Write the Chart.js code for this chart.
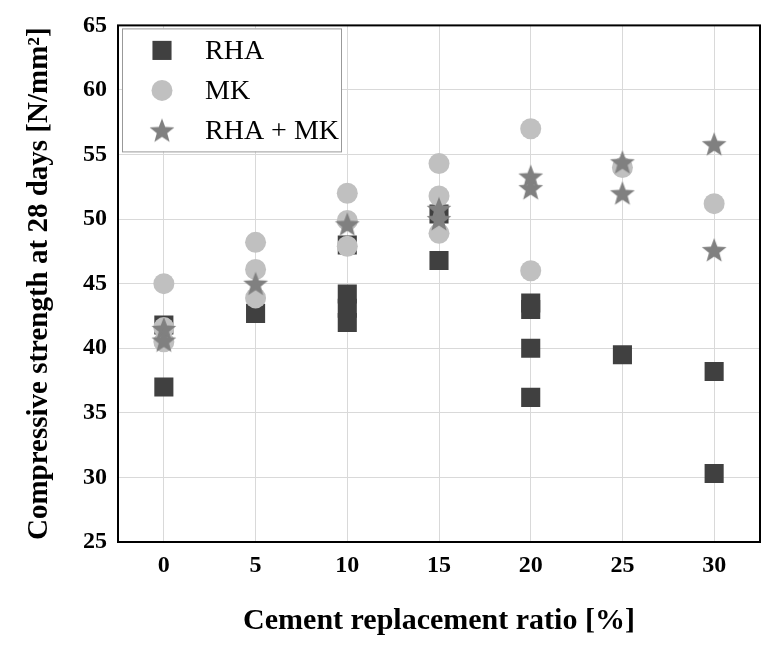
<!DOCTYPE html>
<html lang="en">
<head>
    <meta charset="UTF-8">
    <title>Compressive strength at 28 days</title>
    <script src="https://cdn.jsdelivr.net/npm/chart.js"></script>
    <style>
        body { margin: 0; padding: 0; background: #fff; }
        canvas { display: block; }
    </style>
</head>
<body>
    <canvas id="chart-strength" width="775" height="651"></canvas>

    <script>
        // replacement ratios [%] and the measured strengths at each one
        const replacement = [0, 5, 10, 15, 20, 25, 30];
        const rhaValues = [[41.8, 37.0], [42.7], [48.0, 44.2, 43.1, 42.0], [50.4, 46.8], [43.5, 43.0, 40.0, 36.2], [39.5], [38.2, 30.3]];
        const mkValues = [[45.0, 41.6, 40.5], [48.2, 46.1, 43.9], [52.0, 49.9, 47.9], [54.3, 51.8, 48.9], [57.0, 46.0], [54.0], [51.2]];
        const mixValues = [[41.5, 40.6], [45.0], [49.6], [50.8, 50.0], [53.3, 52.4], [54.4, 52.0], [55.8, 47.6]];
        const seriesNames = ['RHA', 'MK', 'RHA + MK'];
        const xTicks = [0, 5, 10, 15, 20, 25, 30];
        const yTicks = [25, 30, 35, 40, 45, 50, 55, 60, 65];

        const serif = "'Liberation Serif', 'DejaVu Serif', serif";

        function puntos(valores) {
            const out = [];
            valores.forEach((lista, i) => {
                lista.forEach(v => out.push({ x: replacement[i], y: v }));
            });
            return out;
        }

        function hacerEstrella(r, color) {
            const c = document.createElement('canvas');
            c.width = c.height = r * 2;
            const g = c.getContext('2d');
            g.fillStyle = color;
            g.beginPath();
            for (let k = 0; k < 10; k++) {
                const rad = k % 2 === 0 ? r : r * 0.42;
                const a = -Math.PI / 2 + k * Math.PI / 5;
                const px = r + rad * Math.cos(a);
                const py = r + 1 + rad * Math.sin(a);
                if (k === 0) g.moveTo(px, py); else g.lineTo(px, py);
            }
            g.closePath();
            g.fill();
            return c;
        }

        const estrella = hacerEstrella(13, '#808080');

        // legend box and frame drawn after the datasets
        const marcoYLeyenda = {
            id: 'marcoYLeyenda',
            afterDraw(chart) {
                const ctx = chart.ctx;
                const a = chart.chartArea;
                ctx.save();
                ctx.strokeStyle = '#000';
                ctx.lineWidth = 2;
                ctx.strokeRect(a.left, a.top, a.right - a.left, a.bottom - a.top);

                const bx = a.left + 4, by = a.top + 3, bw = 219, bh = 123;
                ctx.fillStyle = '#fff';
                ctx.fillRect(bx, by, bw, bh);
                ctx.strokeStyle = '#999';
                ctx.lineWidth = 1;
                ctx.strokeRect(bx + 0.5, by + 0.5, bw, bh);

                chart.data.datasets.forEach((ds, i) => {
                    const cx = bx + 40, cy = by + 22 + i * 40;
                    ctx.fillStyle = ds.backgroundColor;
                    if (ds.pointStyle === 'rect') {
                        const s = ds.pointRadius * Math.SQRT1_2;
                        ctx.fillRect(cx - s, cy - s, 2 * s, 2 * s);
                    } else if (ds.pointStyle === 'circle') {
                        ctx.beginPath();
                        ctx.arc(cx, cy, ds.pointRadius, 0, Math.PI * 2);
                        ctx.fill();
                    } else {
                        ctx.drawImage(ds.pointStyle, cx - ds.pointStyle.width / 2, cy - ds.pointStyle.height / 2);
                    }
                    ctx.fillStyle = '#000';
                    ctx.font = "28px " + serif;
                    ctx.textBaseline = 'middle';
                    ctx.textAlign = 'left';
                    ctx.fillText(ds.label, bx + 83, cy + 1);
                });
                ctx.restore();
            }
        };

        const ctx = document.getElementById('chart-strength').getContext('2d');
        new Chart(ctx, {
            type: 'scatter',
            data: {
                datasets: [
                    { label: seriesNames[0], data: puntos(rhaValues), pointStyle: 'rect', pointRadius: 13.5, pointHoverRadius: 13.5, backgroundColor: '#404040', borderColor: '#404040', borderWidth: 0, order: 3 },
                    { label: seriesNames[1], data: puntos(mkValues), pointStyle: 'circle', pointRadius: 10.5, pointHoverRadius: 10.5, backgroundColor: '#c0c0c0', borderColor: '#c0c0c0', borderWidth: 0, order: 2 },
                    { label: seriesNames[2], data: puntos(mixValues), pointStyle: estrella, pointRadius: 13, backgroundColor: '#808080', borderColor: '#808080', borderWidth: 0, order: 1 }
                ]
            },
            options: {
                responsive: false,
                animation: false,
                layout: { padding: { left: 0, right: 15, top: 24, bottom: 0 } },
                plugins: { legend: { display: false }, tooltip: { enabled: false } },
                scales: {
                    x: {
                        type: 'linear',
                        min: -2.5,
                        max: 32.5,
                        afterBuildTicks: s => { s.ticks = xTicks.map(v => ({ value: v })); },
                        afterFit: s => { s.height = 109; },
                        grid: { color: '#d9d9d9', lineWidth: 1, drawTicks: false },
                        border: { display: false },
                        ticks: { color: '#000', padding: 9, font: { family: serif, size: 24, weight: 'bold' } },
                        title: { display: true, text: 'Cement replacement ratio [%]', color: '#000', padding: { top: 0, bottom: 12 }, font: { family: serif, size: 30, weight: 'bold' } }
                    },
                    y: {
                        min: 25,
                        max: 65,
                        afterBuildTicks: s => { s.ticks = yTicks.map(v => ({ value: v })); },
                        afterFit: s => { s.width = 118; },
                        grid: { color: '#d9d9d9', lineWidth: 1, drawTicks: false },
                        border: { display: false },
                        ticks: { color: '#000', padding: 11, font: { family: serif, size: 24, weight: 'bold' } },
                        title: { display: true, text: 'Compressive strength at 28 days [N/mm²]', color: '#000', padding: { top: 22, bottom: 0 }, font: { family: serif, size: 29, weight: 'bold' } }
                    }
                }
            },
            plugins: [marcoYLeyenda]
        });
    </script>
</body>
</html>
